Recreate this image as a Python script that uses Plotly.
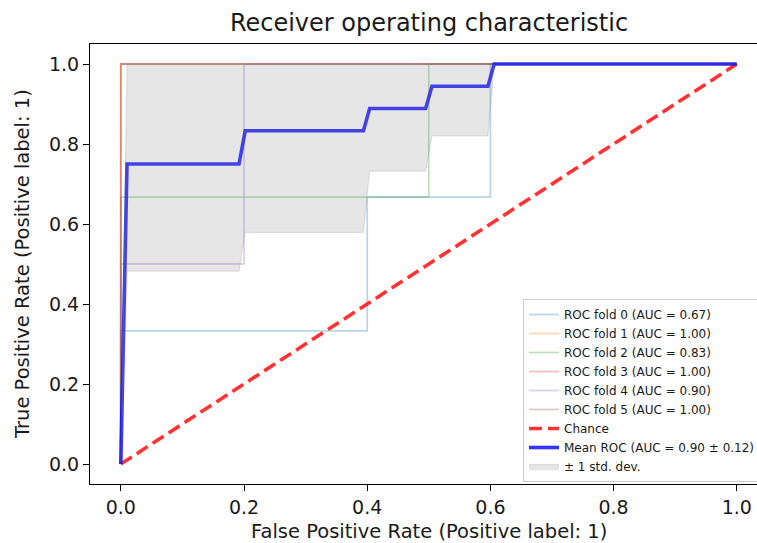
import plotly.graph_objects as go

# ---- data ----
fold_names = ["ROC fold 0 (AUC = 0.67)", "ROC fold 1 (AUC = 1.00)", "ROC fold 2 (AUC = 0.83)",
              "ROC fold 3 (AUC = 1.00)", "ROC fold 4 (AUC = 0.90)", "ROC fold 5 (AUC = 1.00)"]
fold_colors = ["rgba(31,119,180,0.3)", "rgba(255,127,14,0.3)", "rgba(44,160,44,0.3)",
               "rgba(214,39,40,0.3)", "rgba(148,103,189,0.3)", "rgba(140,86,75,0.3)"]

fold0_fpr = [0.0, 0.0, 0.4, 0.4, 0.6, 0.6, 1.0]
fold0_tpr = [0.0, 0.333, 0.333, 0.667, 0.667, 1.0, 1.0]
fold1_fpr = [0.0, 0.0, 1.0]
fold1_tpr = [0.0, 1.0, 1.0]
fold2_fpr = [0.0, 0.0, 0.5, 0.5, 1.0]
fold2_tpr = [0.0, 0.667, 0.667, 1.0, 1.0]
fold3_fpr = [0.0, 0.0, 1.0]
fold3_tpr = [0.0, 1.0, 1.0]
fold4_fpr = [0.0, 0.0, 0.2, 0.2, 1.0]
fold4_tpr = [0.0, 0.5, 0.5, 1.0, 1.0]
fold5_fpr = [0.0, 0.0, 1.0]
fold5_tpr = [0.0, 1.0, 1.0]

chance_x = [0.0, 1.0]
chance_y = [0.0, 1.0]

mean_fpr = [0.0, 0.0101, 0.1919, 0.2020, 0.3939, 0.4040, 0.4949, 0.5051, 0.5960, 0.6061, 1.0]
mean_tpr = [0.0, 0.75, 0.75, 0.8333, 0.8333, 0.8889, 0.8889, 0.9444, 0.9444, 1.0, 1.0]
band_lower = [0.0, 0.482, 0.482, 0.579, 0.579, 0.732, 0.732, 0.820, 0.820, 1.0, 1.0]
band_upper = [0.0, 1.0, 1.0, 1.0, 1.0, 1.0, 1.0, 1.0, 1.0, 1.0, 1.0]

tick_vals = [0.0, 0.2, 0.4, 0.6, 0.8, 1.0]
tick_text = ["0.0", "0.2", "0.4", "0.6", "0.8", "1.0"]

FONT = "DejaVu Sans"
TXT = "#1a1a1a"

W, H = 757, 543
L, T, B = 90, 44, 59
PW, PH = W - L, H - T - B

fig = go.Figure()
folds_x = [fold0_fpr, fold1_fpr, fold2_fpr, fold3_fpr, fold4_fpr, fold5_fpr]
folds_y = [fold0_tpr, fold1_tpr, fold2_tpr, fold3_tpr, fold4_tpr, fold5_tpr]
for name, col, fx, fy in zip(fold_names, fold_colors, folds_x, folds_y):
    fig.add_trace(go.Scatter(x=fx, y=fy, mode="lines", name=name,
                             line=dict(color=col, width=1.8)))

fig.add_trace(go.Scatter(x=chance_x, y=chance_y, mode="lines", name="Chance",
                         line=dict(color="rgba(255,0,0,0.8)", width=3.6, dash="13px,6px")))
fig.add_trace(go.Scatter(x=mean_fpr, y=mean_tpr, mode="lines",
                         name="Mean ROC (AUC = 0.90 \u00b1 0.12)",
                         line=dict(color="rgba(0,0,255,0.8)", width=3.6)))
fig.add_trace(go.Scatter(x=mean_fpr, y=band_lower, mode="lines", showlegend=False,
                         line=dict(color="rgba(128,128,128,0.2)", width=1.2), hoverinfo="skip"))
fig.add_trace(go.Scatter(x=mean_fpr, y=band_upper, mode="lines", fill="tonexty",
                         fillcolor="rgba(128,128,128,0.2)", name="\u00b1 1 std. dev.",
                         line=dict(color="rgba(128,128,128,0.2)", width=1.2)))

x_end = -0.05 + PW / 616.0

fig.update_layout(
    width=W, height=H,
    margin=dict(l=L, r=0, t=T, b=B, autoexpand=False),
    paper_bgcolor="white", plot_bgcolor="white",
    font=dict(family=FONT, color=TXT, size=19),
    title=dict(text="Receiver operating characteristic", x=429 / W, xref="container",
               xanchor="center", y=1 - 23 / H, yref="container", yanchor="middle",
               automargin=False, font=dict(size=24, family=FONT, color=TXT)),
    legend=dict(x=(523 - L) / PW, y=(H - B - 299) / PH, xanchor="left", yanchor="top",
                font=dict(size=12, family=FONT, color=TXT), traceorder="normal",
                bgcolor="rgba(255,255,255,0.8)", bordercolor="#cccccc", borderwidth=1,
                tracegroupgap=0),
    showlegend=True,
)
fig.update_xaxes(range=[-0.05, x_end], tickvals=tick_vals, ticktext=tick_text,
                 showgrid=False, zeroline=False, showline=True, linecolor="black",
                 linewidth=1.2, mirror=True, ticks="outside", ticklen=6, tickwidth=1.2,
                 tickcolor="black", automargin=False,
                 tickfont=dict(size=19, family=FONT, color=TXT))
fig.update_yaxes(range=[-0.05, 1.05], tickvals=tick_vals, ticktext=tick_text,
                 showgrid=False, zeroline=False, showline=True, linecolor="black",
                 linewidth=1.2, mirror=False, ticks="outside", ticklen=6, tickwidth=1.2,
                 tickcolor="black", automargin=False,
                 tickfont=dict(size=19, family=FONT, color=TXT))
fig.add_annotation(text="False Positive Rate (Positive label: 1)", xref="paper", yref="paper",
                   x=(429 - L) / PW, y=-(531 - (T + PH)) / PH, xanchor="center", yanchor="middle",
                   showarrow=False, font=dict(size=19.5, family=FONT, color=TXT))
fig.add_annotation(text="True Positive Rate (Positive label: 1)", xref="paper", yref="paper",
                   x=-(L - 22) / PW, y=0.5, xanchor="center", yanchor="middle",
                   textangle=-90, showarrow=False, font=dict(size=19.5, family=FONT, color=TXT))

fig.write_html(
    "out.html",
    config={"displayModeBar": False},
    post_script="document.body.style.margin='0px';"
                "document.documentElement.style.overflow='hidden';"
                "document.body.style.overflow='hidden';",
)
